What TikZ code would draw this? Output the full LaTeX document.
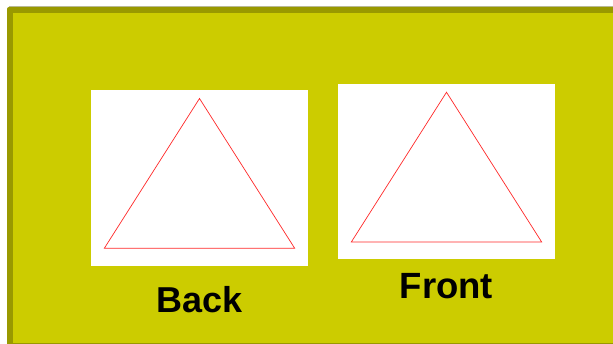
\documentclass[tikz,border=0pt]{standalone}
\usepackage{fontspec}
\setmainfont{Liberation Sans}
\usetikzlibrary{positioning}
\definecolor{olive}{RGB}{204,204,0}
\definecolor{darkolive}{RGB}{153,153,0}
\definecolor{rim}{RGB}{190,190,170}
\definecolor{trired}{RGB}{255,40,40}
\tikzset{
  panel/.style={fill=white,inner sep=0pt,minimum width=217pt,minimum height=176pt},
  caption/.style={font=\bfseries\fontsize{#1}{#1}\selectfont,text=black,anchor=base,inner sep=0pt},
  caption/.default=36pt,
  % outline triangle inside a panel
  pics/tri/.style={code={
    \draw[trired,line width=0.7pt,line join=miter] (0,-79.5) -- (95.2,70.3) -- (-95.2,70.3) -- cycle;
  }},
}
\begin{document}
\begin{tikzpicture}[x=1pt,y=-1pt]
  \useasboundingbox (0,0) rectangle (613,344);
  % backdrop
  \fill[white] (0,0) rectangle (613,344);
  \draw[rim,line width=0.8pt] (9,6.5) -- (613,6.5);
  \fill[darkolive,rounded corners=2pt] (7,7) rectangle (620,351);
  \fill[olive] (13,13) rectangle (613,343);
  % panels
  \node[panel] (back) at (199.5,178) {};
  \node[panel,minimum height=175.5pt] (front) at (446.5,171.75) {};
  \pic at (back.center) {tri};
  \pic at (front.center) {tri};
  % labels
  \node[caption=36pt] (backlbl) at (199.5,312.3) {Back};
  \node[caption=36.5pt] (frontlbl) at (446.5,298.3) {Front};
\end{tikzpicture}
\end{document}
